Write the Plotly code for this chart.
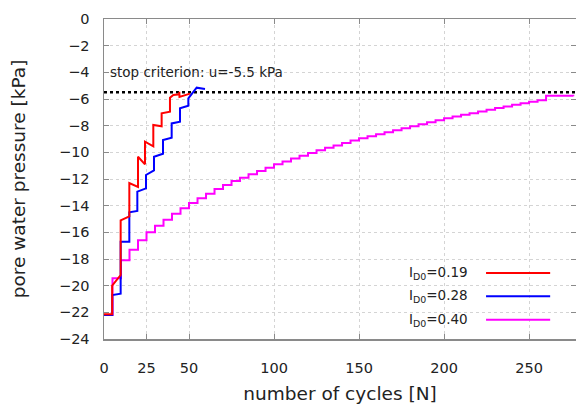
import plotly.graph_objects as go

# ---- data ----
# I_D0 = 0.19 (red): vertices of the measured curve
red_N = [0, 4.8, 4.8, 9.8, 9.8, 14.9, 14.9, 20.0, 20.0, 24.1, 24.1, 29.0, 29.0, 33.9, 33.9,
         38.8, 38.8, 40.8, 44.3, 44.3, 44.4, 50.6]
red_u = [-22.15, -22.15, -20.0, -19.2, -15.1, -14.8, -12.3, -12.6, -10.33, -10.9, -9.2, -9.55,
         -7.95, -8.05, -7.07, -6.95, -5.9, -5.7, -5.65, -5.45, -5.85, -5.6]

# I_D0 = 0.28 (blue)
blue_N = [0, 4.9, 4.9, 9.8, 9.8, 14.9, 14.9, 19.6, 19.6, 24.7, 24.7, 29.4, 29.4, 34.7, 34.7,
          39.8, 39.8, 44.7, 44.7, 49.6, 49.6, 54.5, 59.4]
blue_u = [-22.2, -22.2, -20.7, -20.6, -16.7, -16.7, -14.5, -14.4, -12.95, -12.7, -11.7, -11.35,
          -10.33, -10.1, -9.08, -8.9, -7.83, -7.7, -6.7, -6.5, -5.95, -5.15, -5.25]

# I_D0 = 0.40 (magenta): level of each loading block (block start N)
mag_N = [0, 5, 10, 15, 20, 25, 30, 35, 40, 45, 50, 55, 60, 65, 70, 75, 80, 85, 90, 95,
         100, 105, 110, 115, 120, 125, 130, 135, 140, 145, 150, 155, 160, 165, 170, 175,
         180, 185, 190, 195, 200, 205, 210, 215, 220, 225, 230, 235, 240, 245, 250, 255,
         260, 276]
mag_u = [-22.2, -19.45, -18.1, -17.3, -16.6, -16.0, -15.5, -15.05, -14.6, -14.2, -13.8,
         -13.45, -13.1, -12.75, -12.45, -12.15, -11.9, -11.65, -11.4, -11.15, -10.9, -10.68,
         -10.46, -10.25, -10.05, -9.85, -9.66, -9.48, -9.3, -9.12, -8.95, -8.8, -8.65, -8.5,
         -8.35, -8.2, -8.05, -7.9, -7.75, -7.6, -7.45, -7.32, -7.19, -7.06, -6.93, -6.8,
         -6.68, -6.56, -6.44, -6.32, -6.2, -6.1, -5.75, -5.8]

stop_u = -5.5
x_max = 277.6
x_ticks = [0, 25, 50, 100, 150, 200, 250]
y_ticks = list(range(0, -26, -2))

legend_names = ["I<sub>D0</sub>=0.19", "I<sub>D0</sub>=0.28", "I<sub>D0</sub>=0.40"]
colors = ["#ff0000", "#0000ff", "#ff00ff"]

FONT = "DejaVu Sans"

fig = go.Figure()
fig.add_trace(go.Scatter(x=[0, x_max], y=[stop_u, stop_u], mode="lines",
                         line=dict(color="black", width=2.5, dash="dot"), showlegend=False))
fig.add_trace(go.Scatter(x=mag_N, y=mag_u, mode="lines", line_shape="hv",
                         line=dict(color=colors[2], width=2), showlegend=False))
fig.add_trace(go.Scatter(x=blue_N, y=blue_u, mode="lines",
                         line=dict(color=colors[1], width=2), showlegend=False))
fig.add_trace(go.Scatter(x=red_N, y=red_u, mode="lines",
                         line=dict(color=colors[0], width=2), showlegend=False))

axis_common = dict(showline=True, linecolor="#8a8a8a", linewidth=1.5, mirror="ticks",
                   ticks="inside", ticklen=5, tickcolor="#8a8a8a", tickwidth=1,
                   showgrid=True, gridcolor="#d4d4d4", griddash="dot", gridwidth=1,
                   zeroline=False, automargin=False,
                   tickfont=dict(family=FONT, size=14.5, color="#222"))

fig.update_xaxes(range=[0, x_max], tickvals=x_ticks, ticklabelstandoff=15,
                 title=dict(text="number of cycles [N]", standoff=12,
                            font=dict(family=FONT, size=18.5, color="#222")),
                 **axis_common)
fig.update_yaxes(range=[-24, 0], tickvals=y_ticks, ticklabelstandoff=10,
                 title=dict(text="pore water pressure [kPa]", standoff=28,
                            font=dict(family=FONT, size=18.5, color="#222")),
                 **axis_common)

annotations = [dict(x=2.4, y=-4.0, xref="x", yref="y", text="stop criterion: u=-5.5 kPa",
                    showarrow=False, xanchor="left", yanchor="middle",
                    font=dict(family=FONT, size=13.5, color="#222"))]
shapes = []
leg_y = [-19.05, -20.8, -22.55]
for name, col, ly in zip(legend_names, colors, leg_y):
    annotations.append(dict(x=215.5, y=ly, xref="x", yref="y", text=name, showarrow=False,
                            xanchor="right", yanchor="middle",
                            font=dict(family=FONT, size=13.5, color="#222")))
    shapes.append(dict(type="line", xref="x", yref="y", x0=224.7, x1=262.4, y0=ly, y1=ly,
                       line=dict(color=col, width=2)))

fig.update_layout(width=576, height=410, margin=dict(l=104, r=0, t=19, b=71),
                  paper_bgcolor="white", plot_bgcolor="white", hovermode=False,
                  annotations=annotations, shapes=shapes, showlegend=False)

# remove the default page margin so the figure fills the window exactly
fig.write_html("out.html", config={"displayModeBar": False, "staticPlot": True},
               post_script="document.body.style.margin='0';document.body.style.overflow='hidden';")
